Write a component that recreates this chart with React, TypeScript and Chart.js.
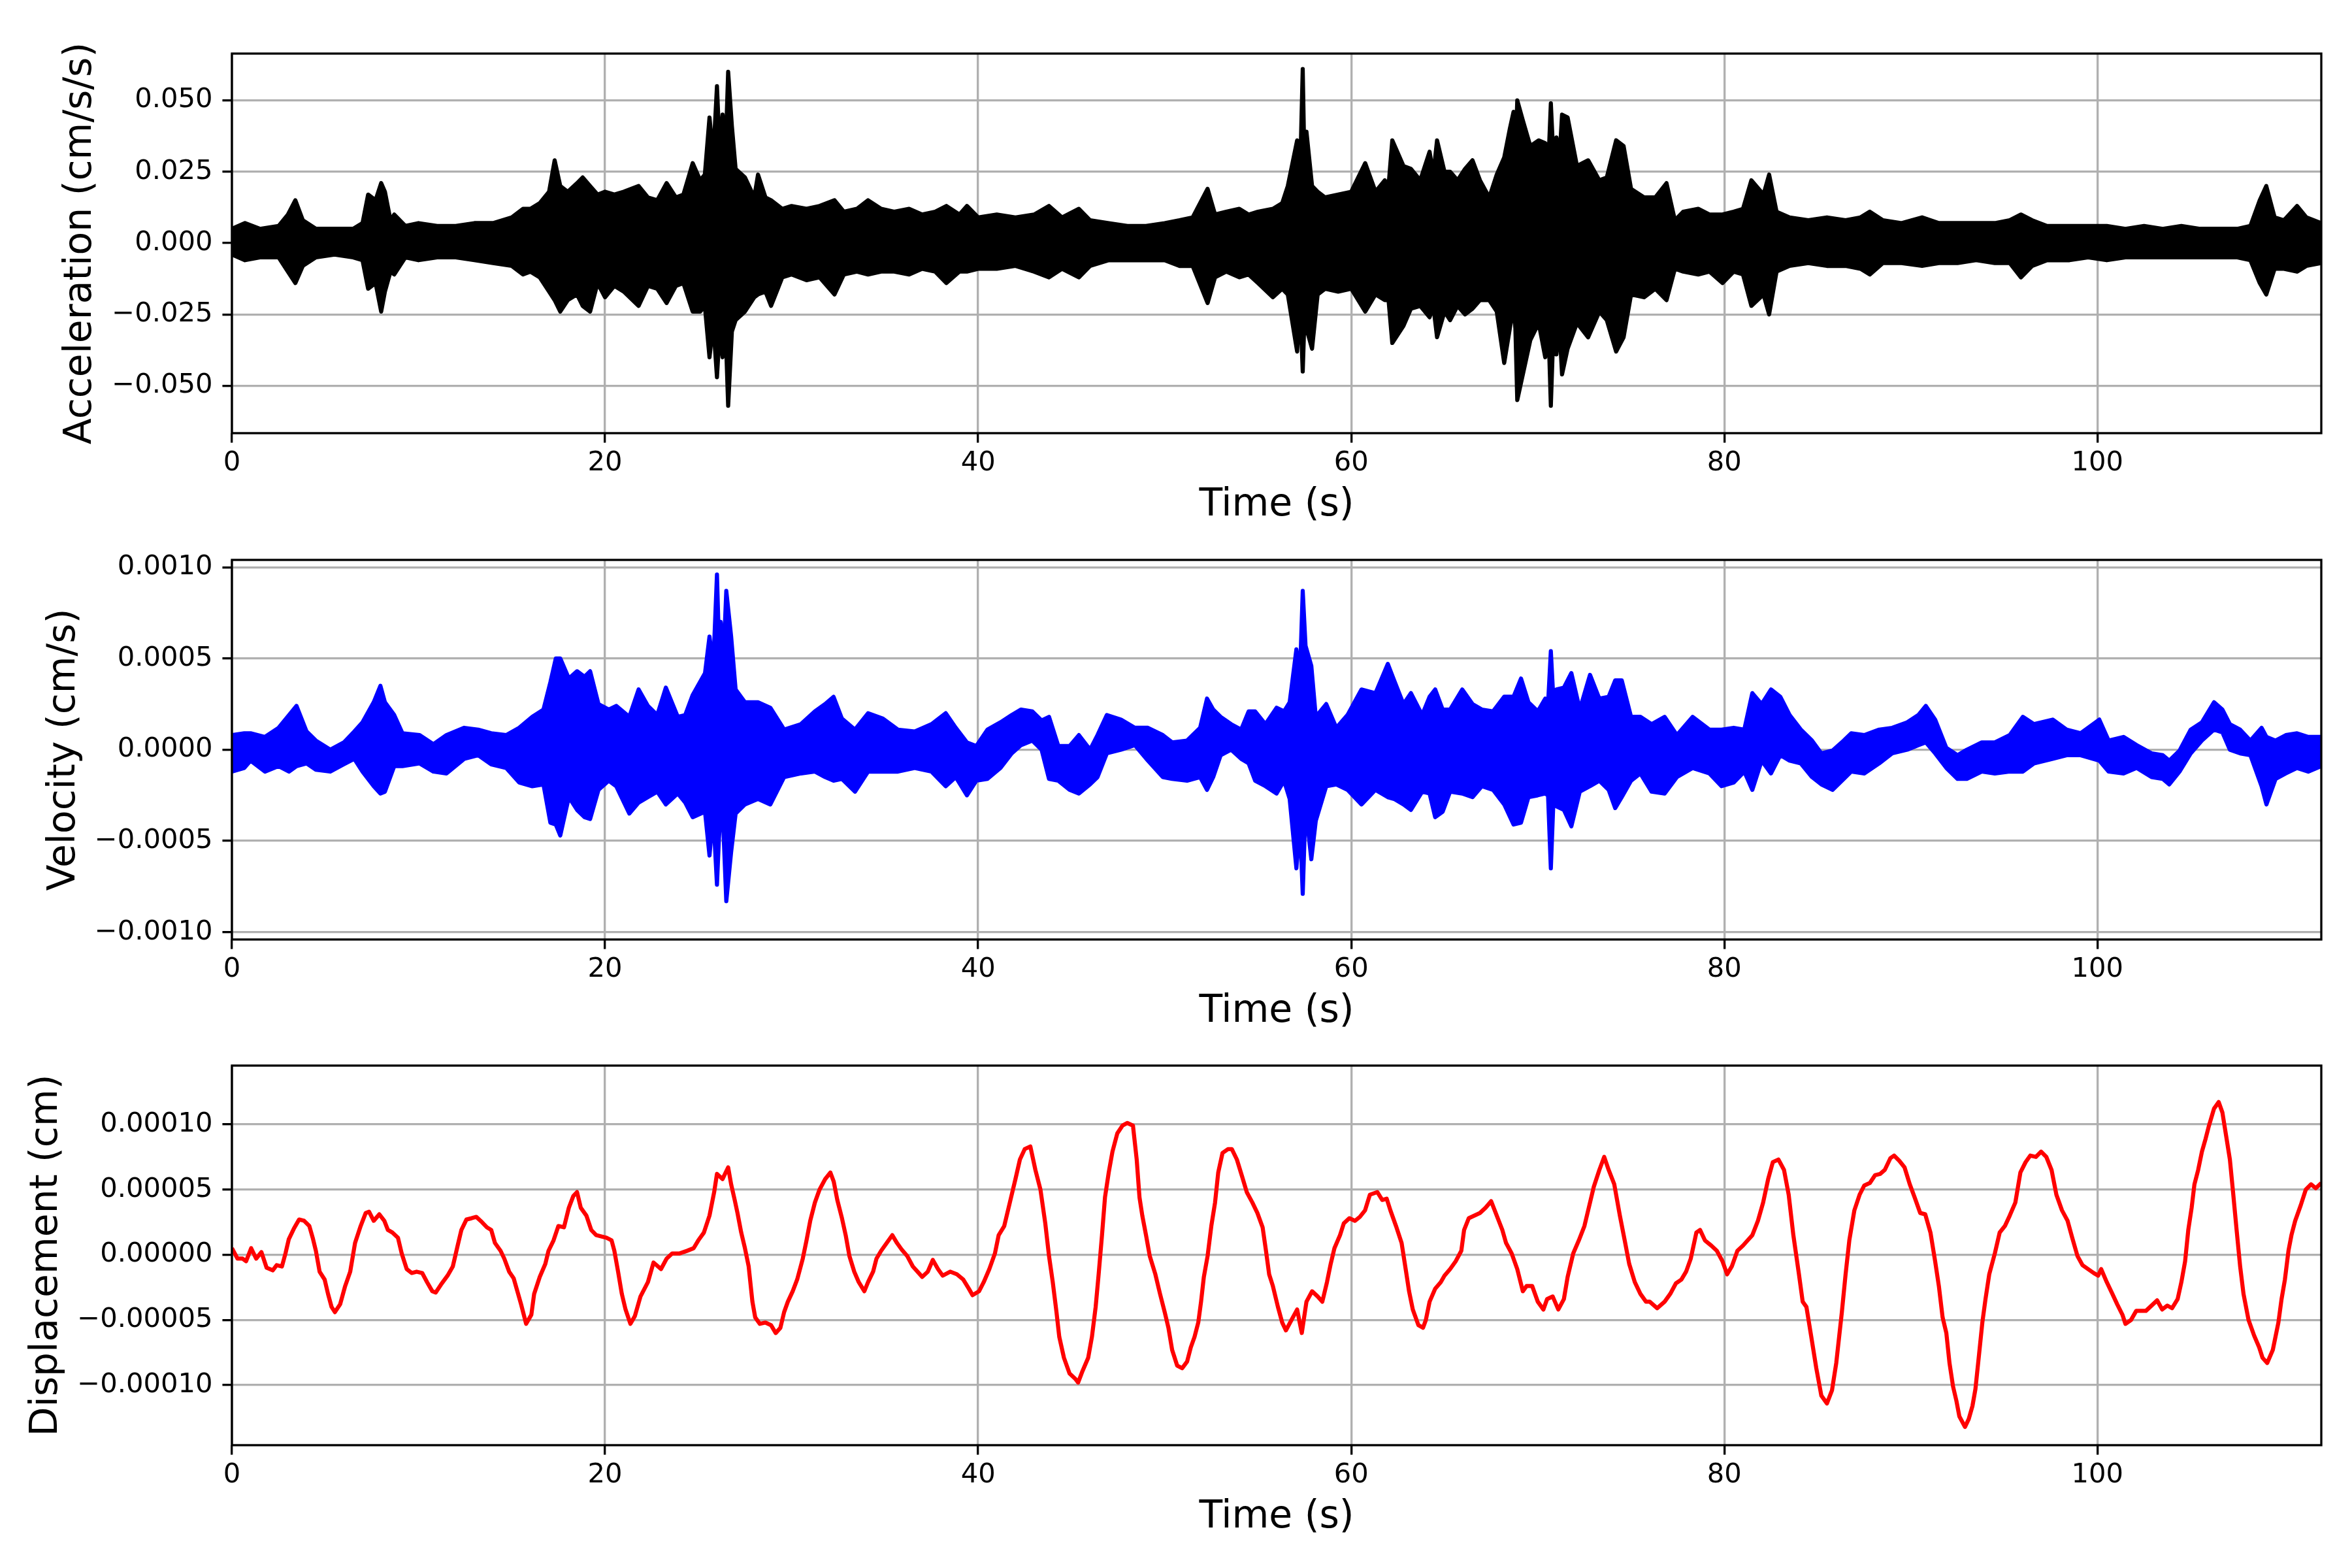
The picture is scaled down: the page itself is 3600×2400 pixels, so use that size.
import React, { useEffect, useRef } from 'react';
import { Chart, registerables } from 'chart.js';
import type { ChartConfiguration, Plugin } from 'chart.js';

Chart.register(...registerables);

const FONT = 'DejaVu Sans';
const PT = 300 / 72; // one point at 300 dpi

const X_MAX = 112;
const X_TICKS = [0, 20, 40, 60, 80, 100];
const X_TICK_LABELS = ['0', '20', '40', '60', '80', '100'];

// acceleration, upper / lower envelope of the trace: [time s, upper, lower] in 1e-3 cm/s/s
const ACC_UNIT = 1e-3;
const ACC_ENVELOPE: [number, number, number][] = [
  [0, 5, -4], [0.7, 7, -6], [1.5, 5, -5], [2.5, 6, -5], [3.0, 10, -10], [3.4, 15, -14], [3.8, 8, -8],
  [4.5, 5, -5], [5.5, 5, -4], [6.5, 5, -5], [7.0, 7, -6], [7.3, 17, -16], [7.7, 15, -14], [8.0, 21, -24],
  [8.2, 18, -17], [8.5, 8, -10], [8.7, 10, -11], [9.3, 6, -5], [10, 7, -6], [11, 6, -5], [12, 6, -5],
  [13, 7, -6], [14, 7, -7], [15, 9, -8], [15.6, 12, -11], [16, 12, -10], [16.5, 14, -12], [17, 18, -17],
  [17.3, 29, -20], [17.6, 20, -24], [18, 18, -20], [18.5, 21, -18], [18.8, 23, -22], [19.2, 20, -24],
  [19.6, 17, -14], [20, 18, -19], [20.5, 17, -15], [21, 18, -17], [21.8, 20, -22], [22.3, 16, -15],
  [22.8, 15, -16], [23.3, 21, -21], [23.8, 16, -15], [24.2, 17, -14], [24.7, 28, -24], [25.1, 22, -24],
  [25.35, 24, -22], [25.6, 44, -40], [25.8, 30, -28], [26, 55, -47], [26.15, 32, -30], [26.3, 45, -40],
  [26.45, 30, -28], [26.6, 60, -57], [26.8, 41, -31], [27, 26, -27],
  [27.5, 23, -24], [28, 16, -19], [28.2, 24, -18], [28.6, 16, -17], [28.9, 15, -22], [29.5, 12, -12],
  [30, 13, -11], [30.8, 12, -13], [31.5, 13, -12], [32.3, 15, -18], [32.8, 11, -11], [33.5, 12, -10],
  [34.1, 15, -11], [34.8, 12, -10], [35.5, 11, -10], [36.3, 12, -11], [37, 10, -9], [37.7, 11, -10],
  [38.3, 13, -14], [39, 10, -10], [39.4, 13, -10], [40, 9, -9], [41, 10, -9], [42, 9, -8], [43, 10, -10],
  [43.8, 13, -12], [44.5, 9, -9], [45.4, 12, -12], [46, 8, -8], [47, 7, -6], [48, 6, -6], [49, 6, -6],
  [50, 7, -6], [50.8, 8, -8], [51.5, 9, -8], [52.3, 19, -21], [52.7, 10, -12], [53.3, 11, -10],
  [54, 12, -12], [54.5, 10, -11], [55, 11, -14], [55.8, 12, -19], [56.3, 14, -16], [56.6, 20, -18],
  [57.1, 36, -38], [57.25, 22, -20], [57.4, 61, -45], [57.5, 25, -25], [57.6, 39, -30], [57.9, 20, -37],
  [58.2, 18, -18], [58.6, 16, -16],
  [59.3, 17, -17], [60, 18, -16], [60.75, 28, -24], [61.3, 18, -18], [61.8, 22, -20], [62.0, 20, -20],
  [62.2, 36, -35], [62.8, 27, -29], [63.2, 26, -23], [63.7, 22, -22], [64.2, 32, -26], [64.4, 24, -22],
  [64.6, 36, -33], [65, 25, -24],
  [65.3, 25, -27], [65.7, 22, -22], [66.1, 26, -25], [66.5, 29, -23], [66.9, 22, -20], [67.4, 16, -20],
  [67.8, 24, -24], [68.2, 30, -42], [68.5, 40, -30], [68.7, 46, -22], [68.8, 30, -30], [68.9, 50, -55],
  [69.2, 43, -46], [69.6, 34, -34], [70.05, 36, -28], [70.4, 35, -40], [70.55, 25, -25], [70.7, 49, -57],
  [70.85, 28, -28], [71, 37, -39], [71.15, 28, -28], [71.3, 45, -46],
  [71.6, 44, -37], [72.1, 27, -28], [72.7, 29, -33], [73.3, 22, -24], [73.7, 23, -27], [74.2, 36, -38],
  [74.6, 34, -33], [75, 19, -18], [75.7, 16, -19], [76.3, 16, -16], [76.9, 21, -20], [77.35, 8, -9],
  [77.8, 11, -10], [78.6, 12, -11], [79.2, 10, -10], [79.9, 10, -14], [80.5, 11, -10], [81, 12, -11],
  [81.45, 22, -22], [82.1, 17, -18], [82.4, 24, -25], [82.8, 11, -10], [83.5, 9, -8], [84.5, 8, -7],
  [85.5, 9, -8], [86.5, 8, -8], [87.3, 9, -9], [87.8, 11, -11], [88.5, 8, -7], [89.5, 7, -7],
  [90.6, 9, -8], [91.5, 7, -7], [92.5, 7, -7], [93.5, 7, -6], [94.5, 7, -7], [95.3, 8, -7],
  [95.9, 10, -12], [96.5, 8, -8], [97.3, 6, -6], [98.5, 6, -6], [99.5, 6, -5], [100.5, 6, -6],
  [101.5, 5, -5], [102.5, 6, -5], [103.5, 5, -5], [104.5, 6, -5], [105.5, 5, -5], [106.5, 5, -5],
  [107.5, 5, -5], [108.2, 6, -6], [108.7, 15, -14], [109.05, 20, -18], [109.5, 9, -9], [110, 8, -9],
  [110.7, 13, -10], [111.2, 9, -8], [112, 7, -7],
];
const ACC_TICKS = [-0.05, -0.025, 0, 0.025, 0.05];
const ACC_TICK_LABELS = ['\u22120.050', '\u22120.025', '0.000', '0.025', '0.050'];

// velocity envelope: [time s, upper, lower] in 1e-4 cm/s
const VEL_UNIT = 1e-4;
const VEL_ENVELOPE: [number, number, number][] = [
  [0, 0.8, -1.2], [0.66, 0.9, -1.0], [1.0, 0.9, -0.6], [1.77, 0.7, -1.2], [2.5, 1.2, -0.9], [3.06, 1.9, -1.2],
  [3.46, 2.4, -0.9], [4.0, 1.0, -0.75], [4.5, 0.5, -1.1], [5.27, 0.0, -1.2], [6.0, 0.4, -0.8], [6.56, 1.0, -0.5],
  [7.0, 1.5, -1.2], [7.6, 2.6, -2.0], [7.96, 3.5, -2.4], [8.2, 2.6, -2.3], [8.7, 1.9, -0.9], [9.14, 0.9, -0.9],
  [10.06, 0.8, -0.75], [10.8, 0.3, -1.2], [11.5, 0.8, -1.3], [12.45, 1.2, -0.5], [13.2, 1.1, -0.3],
  [13.9, 0.9, -0.8], [14.7, 0.8, -1.0], [15.4, 1.2, -1.8], [16.1, 1.8, -2.0], [16.7, 2.2, -1.9],
  [17.07, 3.7, -4.0], [17.36, 5.0, -4.1], [17.6, 5.0, -4.7], [18.06, 3.9, -2.6], [18.5, 4.3, -3.3],
  [18.9, 4.0, -3.7], [19.2, 4.3, -3.8], [19.65, 2.5, -2.2], [20.2, 2.2, -1.7], [20.6, 2.4, -2.0],
  [21.3, 1.8, -3.5], [21.8, 3.3, -2.9], [22.3, 2.4, -2.6], [22.8, 1.9, -2.3], [23.26, 3.4, -3.0],
  [23.9, 1.8, -2.4], [24.3, 1.9, -2.9], [24.7, 3.0, -3.7], [25.36, 4.2, -3.4], [25.6, 6.2, -5.8],
  [25.8, 4.5, -3.5], [26.0, 9.6, -7.4], [26.1, 6.0, -5.0], [26.2, 7.0, -3.3], [26.35, 5.0, -4.5],
  [26.5, 8.7, -8.3], [26.76, 6.2, -5.6], [27.0, 3.3, -3.5],
  [27.5, 2.6, -3.0], [28.2, 2.6, -2.7], [28.86, 2.3, -3.0], [29.6, 1.1, -1.5], [30.5, 1.4, -1.3],
  [31.25, 2.1, -1.2], [31.8, 2.5, -1.5], [32.25, 2.9, -1.7], [32.7, 1.7, -1.6], [33.4, 1.1, -2.3],
  [34.1, 2.0, -1.2], [34.9, 1.7, -1.2], [35.7, 1.1, -1.2], [36.6, 1.0, -1.0], [37.5, 1.4, -1.2],
  [38.26, 2.0, -2.0], [38.8, 1.2, -1.5], [39.4, 0.4, -2.5], [39.9, 0.2, -1.7], [40.5, 1.1, -1.6],
  [41.2, 1.5, -1.0], [41.8, 1.9, -0.2], [42.3, 2.2, 0.25], [42.9, 2.1, 0.5], [43.4, 1.6, 0.0],
  [43.8, 1.8, -1.6], [44.3, 0.2, -1.7], [44.9, 0.2, -2.2], [45.4, 0.8, -2.4], [46.0, 0.0, -1.9],
  [46.4, 0.8, -1.5], [46.9, 1.9, -0.2], [47.66, 1.65, 0.0], [48.4, 1.2, 0.25], [49.1, 1.2, -0.6],
  [49.9, 0.8, -1.5], [50.4, 0.4, -1.6], [51.2, 0.5, -1.7], [51.9, 1.2, -1.5], [52.27, 2.8, -2.2],
  [52.6, 2.2, -1.5], [53.0, 1.8, -0.3], [53.56, 1.4, 0.0], [54.1, 1.1, -0.5], [54.5, 2.1, -0.75],
  [54.85, 2.1, -1.7], [55.4, 1.4, -2.0], [56.0, 2.3, -2.4], [56.4, 2.1, -1.7], [56.7, 2.6, -2.7],
  [57.06, 5.5, -6.5], [57.25, 4.0, -4.0], [57.4, 8.7, -7.9], [57.55, 5.7, -3.1], [57.86, 4.6, -6.0],
  [58.1, 1.8, -3.9],
  [58.66, 2.5, -2.0], [59.2, 1.2, -1.9], [59.8, 1.9, -2.2], [60.55, 3.3, -3.0], [61.3, 3.1, -2.2],
  [61.96, 4.7, -2.6], [62.3, 3.8, -2.7], [62.8, 2.5, -3.0], [63.2, 3.1, -3.3], [63.8, 1.9, -2.3],
  [64.2, 2.9, -2.4], [64.5, 3.3, -3.7], [64.9, 2.2, -3.4], [65.3, 2.2, -2.3], [65.95, 3.3, -2.4],
  [66.5, 2.5, -2.6], [67.0, 2.2, -2.0], [67.6, 2.1, -2.2], [68.2, 2.9, -3.0], [68.7, 2.9, -4.1],
  [69.1, 3.9, -4.0], [69.5, 2.6, -2.6], [70.0, 2.1, -2.5], [70.4, 2.8, -2.4], [70.55, 2.5, -2.5],
  [70.7, 5.4, -6.5], [70.85, 2.5, -2.5],
  [71.0, 3.3, -3.1], [71.4, 3.4, -3.3], [71.8, 4.2, -4.2], [72.25, 2.2, -2.3], [72.8, 4.1, -2.0],
  [73.3, 2.8, -1.7], [73.8, 2.9, -2.2], [74.15, 3.8, -3.2], [74.5, 3.8, -2.6], [75.0, 1.8, -1.7],
  [75.5, 1.8, -1.3], [76.1, 1.4, -2.3], [76.8, 1.8, -2.4], [77.46, 0.8, -1.5], [78.3, 1.8, -1.0],
  [79.2, 1.1, -1.3], [79.85, 1.1, -2.0], [80.5, 1.2, -1.8], [81.07, 1.1, -1.2], [81.5, 3.1, -2.2],
  [82.0, 2.5, -0.6], [82.5, 3.3, -1.3], [83.0, 2.9, -0.3], [83.5, 1.9, -0.6], [84.1, 1.1, -0.75],
  [84.7, 0.5, -1.5], [85.2, -0.2, -1.9], [85.8, -0.05, -2.2], [86.4, 0.5, -1.6], [86.8, 0.9, -1.2],
  [87.5, 0.8, -1.3], [88.3, 1.1, -0.75], [89.0, 1.2, -0.2], [89.8, 1.5, 0.0], [90.4, 1.9, 0.25],
  [90.8, 2.4, 0.4], [91.3, 1.65, -0.2], [91.9, 0.1, -1.0], [92.5, -0.3, -1.6], [93.0, 0.0, -1.6],
  [93.8, 0.4, -1.2], [94.5, 0.4, -1.3], [95.3, 0.8, -1.2], [96.0, 1.8, -1.2], [96.6, 1.4, -0.75],
  [97.6, 1.65, -0.5], [98.35, 1.1, -0.3], [99.1, 0.9, -0.3], [100.1, 1.65, -0.6], [100.6, 0.5, -1.2],
  [101.4, 0.7, -1.3], [102.1, 0.25, -1.0], [102.9, -0.2, -1.5], [103.5, -0.3, -1.6], [103.85, -0.6, -1.9],
  [104.4, -0.05, -1.2], [105.0, 1.1, -0.2], [105.6, 1.5, 0.5], [106.25, 2.6, 1.1], [106.7, 2.2, 0.95],
  [107.1, 1.4, 0.0], [107.65, 1.1, -0.2], [108.2, 0.5, -0.3], [108.8, 1.2, -2.0], [109.06, 0.7, -3.0],
  [109.55, 0.5, -1.6], [110.1, 0.8, -1.3], [110.7, 0.9, -1.0], [111.3, 0.7, -1.2], [112, 0.7, -0.9],
];
const VEL_TICKS = [-0.001, -0.0005, 0, 0.0005, 0.001];
const VEL_TICK_LABELS = ['\u22120.0010', '\u22120.0005', '0.0000', '0.0005', '0.0010'];

// displacement: [time s, value] in 1e-5 cm
const DISP_UNIT = 1e-5;
const DISP_TRACE: [number, number][] = [
  [0, 0.5], [0.3, -0.3], [0.57, -0.3], [0.76, -0.5], [1.03, 0.5], [1.3, -0.3], [1.58, 0.2], [1.86, -1.0],
  [2.19, -1.2], [2.4, -0.8], [2.68, -0.9], [2.87, 0.1], [3.05, 1.2], [3.32, 2.0], [3.6, 2.7], [3.87, 2.6],
  [4.15, 2.2], [4.33, 1.3], [4.5, 0.3], [4.7, -1.3], [4.97, -1.9], [5.15, -3.0], [5.34, -4.0], [5.52, -4.4],
  [5.8, -3.8], [6.07, -2.4], [6.34, -1.3], [6.6, 0.9], [6.9, 2.2], [7.17, 3.2], [7.35, 3.3], [7.6, 2.6],
  [7.9, 3.1], [8.17, 2.6], [8.36, 1.9], [8.6, 1.7], [8.9, 1.3], [9.1, 0.1], [9.37, -1.1], [9.64, -1.4],
  [9.9, -1.3], [10.2, -1.4], [10.46, -2.1], [10.74, -2.8], [10.92, -2.9], [11.2, -2.3], [11.56, -1.6],
  [11.84, -0.9], [12.1, 0.7], [12.3, 1.9], [12.57, 2.7], [12.85, 2.8], [13.1, 2.9], [13.4, 2.5],
  [13.67, 2.1], [13.9, 1.9], [14.1, 0.9], [14.4, 0.3], [14.6, -0.3], [14.86, -1.3], [15.1, -1.8],
  [15.3, -2.8], [15.5, -3.8], [15.77, -5.3], [16.05, -4.6], [16.2, -3.0], [16.5, -1.7], [16.8, -0.7],
  [16.97, 0.3], [17.24, 1.1], [17.5, 2.2], [17.8, 2.1], [18.06, 3.6], [18.3, 4.5], [18.5, 4.8],
  [18.7, 3.6], [19.0, 3.0], [19.26, 1.9], [19.53, 1.5], [19.8, 1.4], [20.08, 1.3], [20.35, 1.1],
  [20.5, 0.3], [20.7, -1.3], [20.9, -3.0], [21.1, -4.2], [21.36, -5.3], [21.6, -4.7], [21.9, -3.2],
  [22.3, -2.1], [22.6, -0.6], [23.0, -1.1], [23.3, -0.3], [23.6, 0.1], [24.0, 0.1], [24.4, 0.3],
  [24.75, 0.5], [25.0, 1.1], [25.3, 1.7], [25.6, 3.0], [25.85, 4.8], [26.0, 6.2], [26.3, 5.8],
  [26.6, 6.7], [26.76, 5.4], [26.95, 4.2], [27.1, 3.2], [27.3, 1.7], [27.5, 0.5], [27.7, -0.9],
  [27.9, -3.6], [28.05, -4.8], [28.3, -5.3], [28.6, -5.2], [28.9, -5.4], [29.15, -6.0], [29.4, -5.6],
  [29.6, -4.4], [29.8, -3.6], [30.06, -2.8], [30.3, -1.9], [30.6, -0.3], [30.8, 1.1], [31.0, 2.6],
  [31.25, 4.0], [31.5, 5.0], [31.8, 5.8], [32.08, 6.3], [32.26, 5.6], [32.45, 4.2], [32.7, 2.8],
  [32.9, 1.5], [33.1, -0.1], [33.36, -1.3], [33.6, -2.1], [33.9, -2.8], [34.1, -2.1], [34.37, -1.3],
  [34.55, -0.3], [34.8, 0.3], [35.1, 0.9], [35.4, 1.5], [35.65, 0.9], [35.9, 0.4], [36.2, -0.1],
  [36.5, -0.9], [36.75, -1.3], [37.0, -1.7], [37.3, -1.3], [37.57, -0.4], [37.85, -1.1], [38.1, -1.6],
  [38.5, -1.3], [38.86, -1.5], [39.2, -1.9], [39.5, -2.6], [39.7, -3.1], [40.05, -2.8], [40.3, -2.1],
  [40.6, -1.1], [40.9, 0.1], [41.1, 1.5], [41.4, 2.2], [41.7, 4.0], [42.0, 5.8], [42.24, 7.3],
  [42.5, 8.1], [42.8, 8.3], [43.07, 6.5], [43.34, 5.0], [43.6, 2.4], [43.8, -0.1], [44.0, -2.1],
  [44.2, -4.4], [44.35, -6.3], [44.6, -7.9], [44.9, -9.1], [45.2, -9.5], [45.36, -9.8], [45.6, -8.9],
  [45.9, -7.9], [46.1, -6.3], [46.3, -4.0], [46.46, -1.5], [46.64, 1.5], [46.8, 4.4], [47.0, 6.3],
  [47.2, 7.9], [47.46, 9.3], [47.74, 9.9], [48.0, 10.1], [48.3, 9.9], [48.5, 7.3], [48.65, 4.4],
  [48.8, 3.0], [49.0, 1.5], [49.2, -0.1], [49.5, -1.5], [49.75, -3.0], [50.0, -4.4], [50.2, -5.6],
  [50.4, -7.3], [50.67, -8.5], [50.94, -8.7], [51.2, -8.2], [51.4, -7.1], [51.6, -6.3], [51.8, -5.2],
  [51.95, -3.6], [52.1, -1.7], [52.3, -0.1], [52.5, 2.2], [52.7, 4.0], [52.87, 6.3], [53.1, 7.8],
  [53.4, 8.1], [53.6, 8.1], [53.87, 7.3], [54.15, 6.0], [54.4, 4.8], [54.7, 4.0], [54.97, 3.2],
  [55.25, 2.1], [55.43, 0.3], [55.6, -1.5], [55.8, -2.4], [56.07, -4.0], [56.3, -5.2], [56.5, -5.8],
  [56.8, -5.0], [57.1, -4.2], [57.35, -6.0], [57.6, -3.6], [57.9, -2.8], [58.2, -3.2], [58.45, -3.6],
  [58.7, -2.1], [58.9, -0.7], [59.1, 0.5], [59.4, 1.5], [59.6, 2.4], [59.9, 2.8], [60.2, 2.6],
  [60.46, 2.9], [60.74, 3.4], [61.0, 4.6], [61.4, 4.8], [61.66, 4.2], [61.9, 4.3], [62.1, 3.4],
  [62.4, 2.2], [62.7, 0.9], [62.94, -1.3], [63.1, -2.8], [63.3, -4.2], [63.6, -5.4], [63.85, -5.6],
  [64.0, -5.0], [64.2, -3.6], [64.5, -2.6], [64.8, -2.1], [65.0, -1.6], [65.3, -1.1], [65.6, -0.5],
  [65.9, 0.3], [66.05, 1.9], [66.3, 2.8], [66.6, 3.0], [66.9, 3.2], [67.2, 3.6], [67.5, 4.1],
  [67.8, 3.0], [68.1, 1.9], [68.3, 0.9], [68.6, 0.1], [68.9, -1.1], [69.2, -2.8], [69.4, -2.4],
  [69.7, -2.4], [70.0, -3.6], [70.3, -4.2], [70.5, -3.4], [70.8, -3.2], [71.1, -4.2], [71.4, -3.4],
  [71.6, -1.7], [71.9, 0.1], [72.2, 1.1], [72.5, 2.2], [72.7, 3.4], [73.0, 5.2], [73.3, 6.5],
  [73.56, 7.5], [73.8, 6.5], [74.1, 5.4], [74.4, 3.0], [74.66, 1.1], [74.9, -0.7], [75.2, -2.1],
  [75.5, -3.0], [75.8, -3.6], [76.0, -3.6], [76.4, -4.1], [76.8, -3.6], [77.1, -3.0], [77.4, -2.2],
  [77.7, -1.9], [77.95, -1.3], [78.2, -0.3], [78.5, 1.7], [78.7, 1.9], [78.96, 1.1], [79.3, 0.7],
  [79.6, 0.3], [79.9, -0.5], [80.15, -1.5], [80.4, -0.9], [80.7, 0.3], [81.0, 0.7], [81.25, 1.1],
  [81.5, 1.5], [81.8, 2.6], [82.08, 4.0], [82.35, 5.8], [82.6, 7.1], [82.9, 7.3], [83.2, 6.5],
  [83.45, 4.6], [83.7, 1.5], [84.0, -1.5], [84.2, -3.6], [84.4, -4.0], [84.65, -6.2], [84.93, -8.7],
  [85.2, -10.8], [85.5, -11.4], [85.77, -10.4], [86.0, -8.3], [86.3, -4.4], [86.5, -1.5], [86.7, 1.1],
  [86.97, 3.4], [87.25, 4.6], [87.5, 5.3], [87.8, 5.5], [88.08, 6.1], [88.36, 6.2], [88.6, 6.5],
  [88.9, 7.4], [89.1, 7.6], [89.38, 7.2], [89.66, 6.7], [89.94, 5.4], [90.2, 4.4], [90.5, 3.2],
  [90.77, 3.1], [91.05, 1.7], [91.3, -0.5], [91.5, -2.4], [91.7, -4.8], [91.9, -6.0], [92.07, -8.3],
  [92.26, -10.1], [92.44, -11.2], [92.6, -12.4], [92.9, -13.2], [93.1, -12.6], [93.3, -11.6],
  [93.46, -10.3], [93.65, -7.7], [93.83, -5.2], [94.0, -3.4], [94.2, -1.5], [94.5, 0.1], [94.76, 1.7],
  [95.04, 2.2], [95.3, 3.0], [95.6, 4.0], [95.87, 6.3], [96.15, 7.1], [96.4, 7.6], [96.7, 7.5],
  [96.98, 7.9], [97.26, 7.5], [97.54, 6.5], [97.8, 4.6], [98.1, 3.4], [98.4, 2.6], [98.65, 1.3],
  [98.93, -0.1], [99.2, -0.8], [99.5, -1.1], [99.8, -1.4], [100.04, -1.6], [100.2, -1.1], [100.5, -2.1],
  [100.8, -3.0], [101.06, -3.8], [101.34, -4.6], [101.5, -5.3], [101.8, -5.0], [102.08, -4.3],
  [102.4, -4.3], [102.6, -4.3], [102.9, -3.9], [103.2, -3.5], [103.47, -4.2], [103.75, -3.9],
  [104.0, -4.1], [104.3, -3.4], [104.5, -2.1], [104.7, -0.5], [104.87, 1.9], [105.05, 3.6],
  [105.2, 5.4], [105.4, 6.5], [105.6, 7.9], [105.8, 8.9], [105.98, 9.9], [106.25, 11.2], [106.5, 11.7],
  [106.7, 10.9], [106.9, 9.1], [107.1, 7.3], [107.27, 4.8], [107.46, 1.9], [107.65, -0.9], [107.83, -3.0],
  [108.1, -5.0], [108.4, -6.2], [108.67, -7.1], [108.85, -7.9], [109.1, -8.3], [109.4, -7.3],
  [109.7, -5.2], [109.87, -3.4], [110.05, -1.9], [110.24, 0.3], [110.4, 1.5], [110.6, 2.6], [110.9, 3.8],
  [111.17, 5.0], [111.45, 5.4], [111.7, 5.1], [112.0, 5.5],
];
const DISP_TICKS = [-0.0001, -0.00005, 0, 0.00005, 0.0001];
const DISP_TICK_LABELS = ['\u22120.00010', '\u22120.00005', '0.00000', '0.00005', '0.00010'];

// figure geometry (matplotlib 12x8 in at 300 dpi)
const FIG_W = 3600;
const FIG_H = 2400;
const AREA_LEFT = 355;
const AREA_RIGHT = 3553;
const AREA_H = 581;
const PAD_TOP = 40;
const X_AXIS_H = 160;
const CANVAS_H = PAD_TOP + AREA_H + X_AXIS_H;
const LINE_W = 1.5 * PT;
const THIN_W = 0.8 * PT;

const spines: Plugin = {
  id: 'spines',
  afterDraw(chart) {
    const { ctx, chartArea: a } = chart;
    ctx.save();
    ctx.strokeStyle = '#000';
    ctx.lineWidth = THIN_W;
    ctx.strokeRect(a.left, a.top, a.right - a.left, a.bottom - a.top);
    ctx.restore();
  },
};

const envelope = (rows: [number, number, number][], unit: number, color: string) => [
  {
    data: rows.map(r => ({ x: r[0], y: r[1] * unit })),
    borderColor: color, borderWidth: LINE_W, pointRadius: 0, fill: false,
    borderJoinStyle: 'round' as const,
  },
  {
    data: rows.map(r => ({ x: r[0], y: r[2] * unit })),
    borderColor: color, backgroundColor: color, borderWidth: LINE_W, pointRadius: 0, fill: '-1',
    borderJoinStyle: 'round' as const,
  },
];

const trace = (rows: [number, number][], unit: number, color: string) => [
  {
    data: rows.map(r => ({ x: r[0], y: r[1] * unit })),
    borderColor: color, borderWidth: LINE_W, pointRadius: 0, fill: false,
    borderJoinStyle: 'round' as const,
  },
];

interface PanelProps {
  top: number;
  datasets: any[];
  yMin: number;
  yMax: number;
  yTicks: number[];
  yTickLabels: string[];
  yLabel: string;
  yLabelPad: number;
}

const Panel: React.FC<PanelProps> = ({ top, datasets, yMin, yMax, yTicks, yTickLabels, yLabel, yLabelPad }) => {
  const ref = useRef<HTMLCanvasElement>(null);

  useEffect(() => {
    if (!ref.current) return;
    const tickFont = { family: FONT, size: 10 * PT };
    const titleFont = { family: FONT, size: 14 * PT };
    const grid = {
      color: '#b0b0b0', lineWidth: THIN_W, tickColor: '#000', tickWidth: THIN_W, tickLength: 3.5 * PT,
    };
    const config: ChartConfiguration = {
      type: 'line',
      data: { datasets },
      options: {
        animation: false,
        responsive: false,
        devicePixelRatio: 1,
        events: [],
        layout: { padding: { top: PAD_TOP, right: FIG_W - AREA_RIGHT, bottom: 0, left: 0 } },
        plugins: { legend: { display: false }, tooltip: { enabled: false } },
        elements: { line: { tension: 0 } },
        scales: {
          x: {
            type: 'linear', min: 0, max: X_MAX,
            afterBuildTicks: (s: any) => { s.ticks = X_TICKS.map(v => ({ value: v })); },
            afterFit: (s: any) => { s.height = X_AXIS_H; },
            ticks: {
              font: tickFont, color: '#000', padding: 7, maxRotation: 0, autoSkip: false,
              callback: (_v: any, i: number) => X_TICK_LABELS[i],
            },
            grid,
            border: { display: false },
            title: {
              display: true, text: 'Time (s)', font: titleFont, color: '#000',
              padding: { top: 0, bottom: 14 },
            },
          },
          y: {
            type: 'linear', min: yMin, max: yMax,
            afterBuildTicks: (s: any) => { s.ticks = yTicks.map(v => ({ value: v })); },
            afterFit: (s: any) => { s.width = AREA_LEFT; },
            ticks: {
              font: tickFont, color: '#000', padding: 15, autoSkip: false,
              callback: (_v: any, i: number) => yTickLabels[i],
            },
            grid,
            border: { display: false },
            title: {
              display: true, text: yLabel, font: titleFont, color: '#000',
              padding: { top: yLabelPad, bottom: 0 },
            },
          },
        },
      },
      plugins: [spines],
    };
    const chart = new Chart(ref.current, config);
    return () => { chart.destroy(); };
  }, []);

  return (
    <canvas
      ref={ref}
      width={FIG_W}
      height={CANVAS_H}
      style={{ position: 'absolute', left: 0, top: top - PAD_TOP, width: FIG_W, height: CANVAS_H }}
    />
  );
};

export default function App() {
  return (
    <div style={{ position: 'absolute', left: 0, top: 0, width: FIG_W, height: FIG_H, background: '#fff', overflow: 'hidden' }}>
      <Panel
        top={82}
        datasets={envelope(ACC_ENVELOPE, ACC_UNIT, '#000000')}
        yMin={-0.0666} yMax={0.0664}
        yTicks={ACC_TICKS} yTickLabels={ACC_TICK_LABELS}
        yLabel="Acceleration (cm/s/s)" yLabelPad={89}
      />
      <Panel
        top={857}
        datasets={envelope(VEL_ENVELOPE, VEL_UNIT, '#0000ff')}
        yMin={-0.00104} yMax={0.00104}
        yTicks={VEL_TICKS} yTickLabels={VEL_TICK_LABELS}
        yLabel="Velocity (cm/s)" yLabelPad={64}
      />
      <Panel
        top={1631}
        datasets={trace(DISP_TRACE, DISP_UNIT, '#ff0000')}
        yMin={-0.000146} yMax={0.000145}
        yTicks={DISP_TICKS} yTickLabels={DISP_TICK_LABELS}
        yLabel="Displacement (cm)" yLabelPad={37}
      />
    </div>
  );
}
